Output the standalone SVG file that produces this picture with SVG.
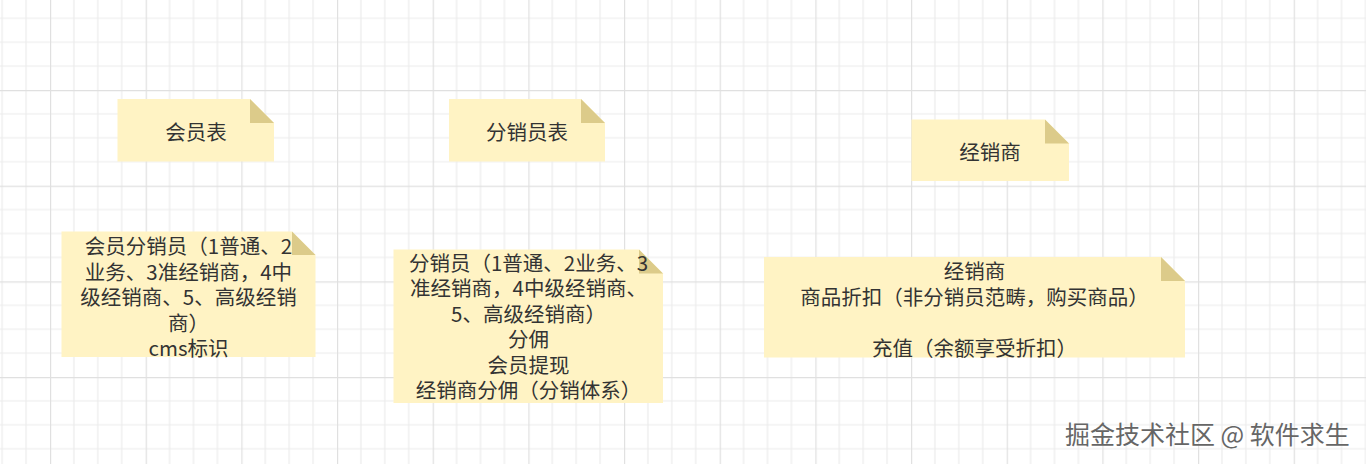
<svg xmlns="http://www.w3.org/2000/svg" width="1366" height="464" viewBox="0 0 1366 464">
<defs>
<pattern id="grid" patternUnits="userSpaceOnUse" x="50" y="90" width="95.67" height="95.67">
<path d="M23.92,0V95.67M47.83,0V95.67M71.75,0V95.67M0,23.92H95.67M0,47.83H95.67M0,71.75H95.67" stroke="#ececec" stroke-width="1.2" fill="none"/>
<path d="M0.5,0V95.67M0,0.5H95.67" stroke="#e0e0e0" stroke-width="1.4" fill="none"/>
</pattern>
<style>
.body{fill:#fff3c4;}
.fold{fill:#dccb8a;}
.t{font-family:"Noto Sans CJK SC","Microsoft YaHei",sans-serif;font-size:20.5px;fill:#333333;text-anchor:middle;dominant-baseline:central;}
.wm{font-family:"Noto Sans CJK SC","Microsoft YaHei",sans-serif;font-size:25px;fill:#666666;stroke:#ffffff;stroke-width:0.6px;paint-order:stroke;}
</style>
</defs>
<rect width="1366" height="464" fill="#ffffff"/>
<rect width="1366" height="464" fill="url(#grid)"/>
<g id="connectors"/>
<g id="note-huiyuanbiao">
<path class="body" d="M117.5,99H250L274,123V161.5H117.5Z"/>
<path class="fold" d="M250,99V123H274Z"/>
<text class="t" x="196" y="131">会员表</text>
</g>
<g id="note-fenxiaoyuanbiao">
<path class="body" d="M449,99H581L605,123V161.5H449Z"/>
<path class="fold" d="M581,99V123H605Z"/>
<text class="t" x="527" y="131">分销员表</text>
</g>
<g id="note-jingxiaoshang">
<path class="body" d="M911.5,119.5H1045L1069,143.5V181H911.5Z"/>
<path class="fold" d="M1045,119.5V143.5H1069Z"/>
<text class="t" x="990" y="151">经销商</text>
</g>
<g id="note-huiyuan-fenxiaoyuan">
<path class="body" d="M61.5,231.5H292L315.5,255V357H61.5Z"/>
<path class="fold" d="M292,231.5V255H315.5Z"/>
<text class="t"><tspan x="188.5" y="245">会员分销员（1普通、2</tspan><tspan x="188.5" y="270.5">业务、3准经销商，4中</tspan><tspan x="188.5" y="296">级经销商、5、高级经销</tspan><tspan x="188.5" y="321.5">商）</tspan><tspan x="188.5" y="347">cms标识</tspan></text>
</g>
<g id="note-fenxiaoyuan">
<path class="body" d="M393.5,249.5H639L663,273.5V403H393.5Z"/>
<path class="fold" d="M639,249.5V273.5H663Z"/>
<text class="t"><tspan x="528.5" y="261.5">分销员（1普通、2业务、3</tspan><tspan x="528.5" y="287">准经销商，4中级经销商、</tspan><tspan x="528.5" y="312.5">5、高级经销商）</tspan><tspan x="528.5" y="338">分佣</tspan><tspan x="528.5" y="363.5">会员提现</tspan><tspan x="528.5" y="389">经销商分佣（分销体系）</tspan></text>
</g>
<g id="note-jingxiaoshang-detail">
<path class="body" d="M764,257H1161L1185,281V357.5H764Z"/>
<path class="fold" d="M1161,257V281H1185Z"/>
<text class="t"><tspan x="974.5" y="270">经销商</tspan><tspan x="974.5" y="295.5">商品折扣（非分销员范畴，购买商品）</tspan><tspan x="974.5" y="346.5">充值（余额享受折扣）</tspan></text>
</g>
<text class="wm" x="1065" y="444">掘金技术社区 @ 软件求生</text>
</svg>
